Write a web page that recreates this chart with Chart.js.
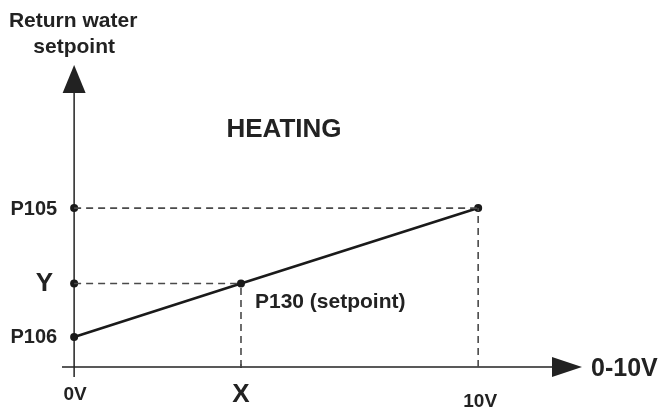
<!DOCTYPE html>
<html>
<head>
<meta charset="utf-8">
<script src="https://cdn.jsdelivr.net/npm/chart.js@4.4.1/dist/chart.umd.min.js"></script>
<style>
  html, body { margin: 0; padding: 0; background: #ffffff; }
  #wrap { width: 662px; height: 407px; }
</style>
</head>
<body>
<div id="wrap"><canvas id="c" width="662" height="407"></canvas></div>
<script>
// ---- data ----
const xTickValues = [0, 4.13, 10];
const xTickLabels = ['0V', 'X', '10V'];
const yTickValues = [1, 1.83, 3];
const yTickLabels = ['P106', 'Y', 'P105'];
const lineX = [0, 4.13, 10];
const lineY = [1, 1.83, 3];
const xAxisTitle = '0-10V';
const yAxisTitle = ['Return water', 'setpoint'];
const modeLabel = 'HEATING';
const pointLabel = 'P130 (setpoint)';
const axisCrossY = 0.535;   // value where the horizontal axis sits
const xRange = [-0.3, 12.57];
const yRange = [0.38, 5.22];

const INK = '#222222';
const FONT = '"Liberation Sans", Arial, Helvetica, sans-serif';

const linePts = lineX.map((x, i) => ({ x: x, y: lineY[i] }));
const dotPts = [
  { x: 0, y: yTickValues[0] }, { x: 0, y: yTickValues[1] }, { x: 0, y: yTickValues[2] },
  { x: xTickValues[1], y: lineY[1] }, { x: xTickValues[2], y: lineY[2] }
];
const guideStyle = { borderColor: '#4a4a4a', borderWidth: 1.6, borderDash: [7, 5], pointRadius: 0, showLine: true, fill: false };
const guides = [
  [{ x: 0, y: yTickValues[2] }, { x: xTickValues[2], y: yTickValues[2] }],
  [{ x: 0, y: yTickValues[1] }, { x: xTickValues[1], y: yTickValues[1] }],
  [{ x: xTickValues[1], y: axisCrossY }, { x: xTickValues[1], y: lineY[1] }],
  [{ x: xTickValues[2], y: axisCrossY }, { x: xTickValues[2], y: lineY[2] }]
];

// label styles (size, alignment, offsets in px)
const yLabelStyle = [
  { size: 20, dx: -17, dy: 6 },
  { size: 26, dx: -21, dy: 7 },
  { size: 20, dx: -17, dy: 7 }
];
const xLabelStyle = [
  { size: 19, dx: 1, y: 400 },
  { size: 26, dx: 0, y: 402 },
  { size: 19, dx: 2, y: 407 }
];

const axesPlugin = {
  id: 'axesPlugin',
  beforeDatasetsDraw(chart) {
    const ctx = chart.ctx, xs = chart.scales.x, ys = chart.scales.y, a = chart.chartArea;
    const x0 = xs.getPixelForValue(0);
    const y0 = ys.getPixelForValue(axisCrossY);
    ctx.save();
    ctx.strokeStyle = INK; ctx.fillStyle = INK; ctx.lineWidth = 1.5;
    // vertical axis
    ctx.beginPath(); ctx.moveTo(x0, a.bottom); ctx.lineTo(x0, a.top + 26); ctx.stroke();
    ctx.beginPath(); ctx.moveTo(x0, a.top); ctx.lineTo(x0 - 11.5, a.top + 28); ctx.lineTo(x0 + 11.5, a.top + 28); ctx.closePath(); ctx.fill();
    // horizontal axis
    ctx.beginPath(); ctx.moveTo(a.left, y0); ctx.lineTo(a.right - 28, y0); ctx.stroke();
    ctx.beginPath(); ctx.moveTo(a.right, y0); ctx.lineTo(a.right - 30, y0 - 10); ctx.lineTo(a.right - 30, y0 + 10); ctx.closePath(); ctx.fill();
    // small tick at X
    const xx = xs.getPixelForValue(xTickValues[1]);
    ctx.lineWidth = 1.2;
    ctx.beginPath(); ctx.moveTo(xx, y0 - 3); ctx.lineTo(xx, y0 + 1); ctx.stroke();
    ctx.restore();
  },
  afterDatasetsDraw(chart) {
    const ctx = chart.ctx, xs = chart.scales.x, ys = chart.scales.y, a = chart.chartArea;
    const x0 = xs.getPixelForValue(0);
    ctx.save();
    ctx.fillStyle = INK;
    ctx.textBaseline = 'alphabetic';
    // y tick labels
    ctx.textAlign = 'right';
    yTickValues.forEach((v, i) => {
      const s = yLabelStyle[i];
      ctx.font = 'bold ' + s.size + 'px ' + FONT;
      ctx.fillText(yTickLabels[i], x0 + s.dx, ys.getPixelForValue(v) + s.dy);
    });
    // x tick labels
    ctx.textAlign = 'center';
    xTickValues.forEach((v, i) => {
      const s = xLabelStyle[i];
      ctx.font = 'bold ' + s.size + 'px ' + FONT;
      ctx.fillText(xTickLabels[i], xs.getPixelForValue(v) + s.dx, s.y);
    });
    // axis titles
    ctx.font = 'bold 21px ' + FONT;
    ctx.fillText(yAxisTitle[0], x0 - 1, 27);
    ctx.fillText(yAxisTitle[1], x0, 53);
    ctx.textAlign = 'left';
    ctx.font = 'bold 25px ' + FONT;
    ctx.fillText(xAxisTitle, a.right + 9, ys.getPixelForValue(axisCrossY) + 9);
    // mode label
    ctx.textAlign = 'center';
    ctx.font = 'bold 26px ' + FONT;
    ctx.fillText(modeLabel, 284, 137);
    // point label
    ctx.textAlign = 'left';
    ctx.font = 'bold 21px ' + FONT;
    ctx.fillText(pointLabel, xs.getPixelForValue(xTickValues[1]) + 14, ys.getPixelForValue(lineY[1]) + 24);
    ctx.restore();
  }
};

new Chart(document.getElementById('c'), {
  type: 'scatter',
  data: {
    datasets: [
      ...guides.map(g => Object.assign({ data: g }, guideStyle)),
      { data: linePts, showLine: true, borderColor: '#1a1a1a', borderWidth: 2.6, pointRadius: 0, fill: false },
      { data: dotPts, showLine: false, pointRadius: 4, pointBackgroundColor: '#1a1a1a', pointBorderWidth: 0 }
    ]
  },
  options: {
    responsive: false,
    animation: false,
    devicePixelRatio: 1,
    layout: { padding: { left: 62, right: 80, top: 65, bottom: 30 } },
    plugins: { legend: { display: false }, tooltip: { enabled: false }, title: { display: false } },
    scales: {
      x: { type: 'linear', display: false, min: xRange[0], max: xRange[1] },
      y: { type: 'linear', display: false, min: yRange[0], max: yRange[1] }
    },
    elements: { line: { tension: 0 } }
  },
  plugins: [axesPlugin]
});
</script>
</body>
</html>
